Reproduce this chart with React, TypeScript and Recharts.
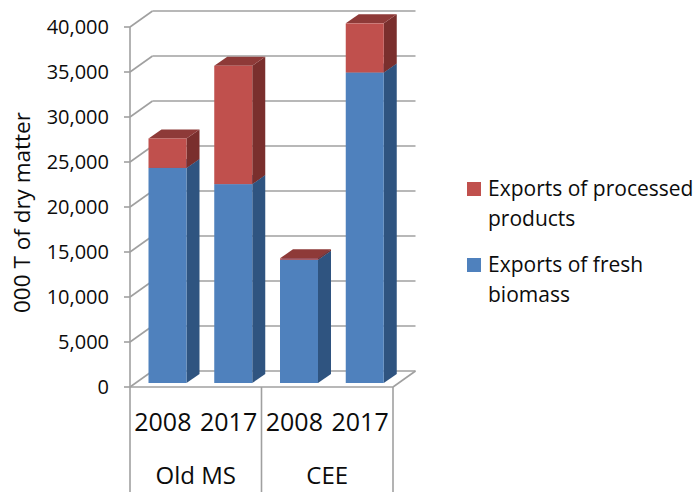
import { Bar, BarChart, CartesianGrid, Legend, XAxis, YAxis } from 'recharts';

const years = ['2008', '2017', '2008', '2017'];
const regions = ['Old MS', 'Old MS', 'CEE', 'CEE'];
const freshBiomass = [23900, 22100, 13700, 34500];
const processedProducts = [3270, 13150, 150, 5460];
const yTicks = [0, 5000, 10000, 15000, 20000, 25000, 30000, 35000, 40000];

const data = years.map((year, i) => ({
  year,
  region: regions[i],
  fresh: freshBiomass[i],
  processed: processedProducts[i],
}));

const WIDTH = 699;
const HEIGHT = 493;
const LEFT = 130;
const TOP = 27;
const RIGHT_GAP = 306;
const BOTTOM_GAP = 106;
const BAND = (WIDTH - LEFT - RIGHT_GAP) / years.length;
const PLOT_BOTTOM = HEIGHT - BOTTOM_GAP;

const FONT = '"Open Sans", sans-serif';
const GRID = '#a0a0a0';
const INK = '#0c0c0c';
const WALL_DX = 22.5;
const WALL_DY = -16;
const BAR_DX = 13;
const BAR_DY = -9;

function bar3d(side: string, top: string) {
  return function Bar3d(props: any) {
    const { x, y, width, height, fill } = props;
    const fx = x + 4.5;
    const fy = y - 4;
    return (
      <g>
        <polygon
          points={`${fx + width},${fy} ${fx + width + BAR_DX},${fy + BAR_DY} ${fx + width + BAR_DX},${fy + height + BAR_DY} ${fx + width},${fy + height}`}
          fill={side}
        />
        <polygon
          points={`${fx},${fy} ${fx + BAR_DX},${fy + BAR_DY} ${fx + width + BAR_DX},${fy + BAR_DY} ${fx + width},${fy}`}
          fill={top}
        />
        <rect x={fx} y={fy} width={width} height={height} fill={fill} />
      </g>
    );
  };
}

function gridLine(props: any) {
  const { x1, x2, y1, y2, index } = props;
  const style = { stroke: GRID, strokeWidth: 1.6 };
  return (
    <g key={index}>
      <line x1={x1} y1={y1} x2={x1 + WALL_DX} y2={y1 + WALL_DY} {...style} />
      <line x1={x1 + WALL_DX} y1={y1 + WALL_DY} x2={x2 + WALL_DX} y2={y2 + WALL_DY} {...style} />
      {y1 >= PLOT_BOTTOM - 1 && (
        <line x1={x2} y1={y2} x2={x2 + WALL_DX} y2={y2 + WALL_DY} {...style} />
      )}
    </g>
  );
}

function RegionTick(props: any) {
  const { x, index } = props;
  const left = x - BAND / 2;
  const sep = { stroke: GRID, strokeWidth: 1.6 };
  return (
    <g>
      {index % 2 === 0 && <line x1={left} y1={PLOT_BOTTOM} x2={left} y2={492} {...sep} />}
      {index === years.length - 1 && (
        <line x1={x + BAND / 2} y1={PLOT_BOTTOM} x2={x + BAND / 2} y2={492} {...sep} />
      )}
      {index % 2 === 0 && (
        <text x={x + BAND / 2} y={484} textAnchor="middle" fontSize={24} fontFamily={FONT} fill={INK}>
          {regions[index]}
        </text>
      )}
    </g>
  );
}

function LegendBox({ payload }: any) {
  const items = [...(payload ?? [])].reverse();
  return (
    <div style={{ fontFamily: FONT, fontSize: 21, lineHeight: '29.5px', color: INK, width: 232 }}>
      {items.map((item: any) => (
        <div key={item.value} style={{ position: 'relative', paddingLeft: 21, marginBottom: 17 }}>
          <span
            style={{
              position: 'absolute',
              left: 0,
              top: 8,
              width: 14,
              height: 14,
              background: item.color,
            }}
          />
          {item.value}
        </div>
      ))}
    </div>
  );
}

export default function App() {
  return (
    <div style={{ position: 'absolute', left: 0, top: 0 }}>
      <BarChart
        width={WIDTH}
        height={HEIGHT}
        data={data}
        margin={{ top: TOP, right: RIGHT_GAP, bottom: 0, left: 0 }}
      >
        <CartesianGrid vertical={false} horizontal={gridLine} />
        <XAxis
          dataKey="year"
          height={50}
          interval={0}
          stroke={GRID}
          strokeWidth={1.6}
          tickLine={false}
          tick={{ fontSize: 25, fontFamily: FONT, fill: INK }}
          tickMargin={20}
        />
        <XAxis
          xAxisId="region"
          dataKey="region"
          height={56}
          interval={0}
          axisLine={false}
          tickLine={false}
          tick={RegionTick}
        />
        <YAxis
          width={LEFT}
          domain={[0, 40000]}
          ticks={yTicks}
          interval={0}
          tickFormatter={(v: number) => v.toLocaleString('en-US')}
          stroke={GRID}
          strokeWidth={1.6}
          tickSize={6}
          tickMargin={15}
          tick={{ fontSize: 20, fontFamily: FONT, fill: INK }}
          label={{
            value: '000 T of dry matter',
            angle: -90,
            position: 'insideLeft',
            dx: 17,
            dy: 106,
            style: { fontSize: 22.5, fontFamily: FONT, fill: INK, textAnchor: 'start' },
          }}
        />
        <Bar
          dataKey="fresh"
          name="Exports of fresh biomass"
          stackId="a"
          barSize={38}
          fill="#4f81bd"
          shape={bar3d('#2f5480', '#3a6596')}
          isAnimationActive={false}
        />
        <Bar
          dataKey="processed"
          name="Exports of processed products"
          stackId="a"
          barSize={38}
          fill="#c0504d"
          shape={bar3d('#7a2f2d', '#8e3a38')}
          isAnimationActive={false}
        />
        <Legend
          layout="vertical"
          align="center"
          verticalAlign="middle"
          content={LegendBox}
          wrapperStyle={{ left: 467, top: 174, width: 232 }}
        />
      </BarChart>
    </div>
  );
}
